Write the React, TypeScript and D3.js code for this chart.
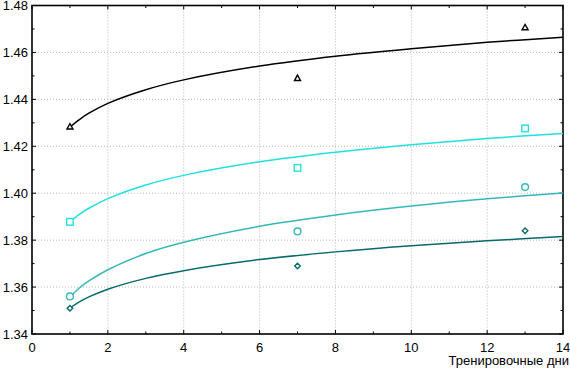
import * as d3 from "d3";

// fitted curves at these days
const curveDays = [1, 1.25, 1.5, 2, 3, 4, 6, 8, 10, 12, 14];
const curveBlack = [1.4282, 1.4314, 1.4341, 1.4383, 1.4441, 1.4483, 1.4542, 1.4584, 1.4616, 1.4643, 1.4665];
const curveCyan = [1.3878, 1.391, 1.3936, 1.3977, 1.4035, 1.4076, 1.4134, 1.4175, 1.4207, 1.4233, 1.4255];
const curveTeal = [1.3558, 1.3596, 1.3626, 1.3674, 1.3743, 1.3791, 1.3859, 1.3907, 1.3945, 1.3976, 1.4001];
const curveDark = [1.3511, 1.3537, 1.3558, 1.3591, 1.3637, 1.367, 1.3717, 1.375, 1.3776, 1.3797, 1.3815];

// measured points
const pointDays = [1, 7, 13];
const pointsBlack = [1.4283, 1.449, 1.4706];
const pointsCyan = [1.3878, 1.4108, 1.4276];
const pointsTeal = [1.356, 1.3837, 1.4026];
const pointsDark = [1.351, 1.369, 1.384];

const xTicks = [0, 2, 4, 6, 8, 10, 12, 14];
const yTicks = [1.34, 1.36, 1.38, 1.4, 1.42, 1.44, 1.46, 1.48];
const xLabel = "Тренировочные дни";

const series = [
  { curve: curveBlack, pts: pointsBlack, color: "#000000", marker: "triangle" },
  { curve: curveCyan, pts: pointsCyan, color: "#22e0e0", marker: "square" },
  { curve: curveTeal, pts: pointsTeal, color: "#35b8b8", marker: "circle" },
  { curve: curveDark, pts: pointsDark, color: "#086a6a", marker: "diamond" },
];

const W = 570;
const H = 368;
const left = 32;
const right = 563;
const top = 5.5;
const bottom = 334;
const font = "'Liberation Sans', Arial, sans-serif";

function Marker({ kind, cx, cy, color }: { kind: string; cx: number; cy: number; color: string }) {
  const sw = 1.4;
  if (kind === "square") return <rect x={cx - 3.3} y={cy - 3.3} width={6.6} height={6.6} fill="white" stroke={color} strokeWidth={sw} />;
  if (kind === "circle") return <circle cx={cx} cy={cy} r={3.4} fill="white" stroke={color} strokeWidth={sw} />;
  if (kind === "diamond")
    return <path d={`M${cx},${cy - 2.8}L${cx + 2.8},${cy}L${cx},${cy + 2.8}L${cx - 2.8},${cy}Z`} fill="white" stroke={color} strokeWidth={sw} />;
  return <path d={`M${cx},${cy - 3.2}L${cx + 3},${cy + 2.2}L${cx - 3},${cy + 2.2}Z`} fill="white" stroke={color} strokeWidth={sw} />;
}

export default function App() {
  const x = d3.scaleLinear().domain([0, 14]).range([left, right]);
  const y = d3.scaleLinear().domain([1.34, 1.48]).range([bottom, top]);
  const line = d3
    .line<number>()
    .x((_, i) => x(curveDays[i]))
    .y((v) => y(v))
    .curve(d3.curveCatmullRom);

  const xMinor = d3.range(1, 14, 2);
  const yMinor = d3.range(0, 7).map((i) => 1.35 + i * 0.02);

  return (
    <svg width={W} height={H} style={{ position: "absolute", left: 0, top: 0, background: "white" }}>
      <rect x={0} y={0} width={W} height={H} fill="white" />
      {/* grid */}
      {xTicks.slice(1, -1).map((t) => (
        <line key={`gx${t}`} x1={x(t)} x2={x(t)} y1={top} y2={bottom} stroke="#b8b8b8" strokeWidth={1} strokeDasharray="1,2" />
      ))}
      {yTicks.slice(1, -1).map((t) => (
        <line key={`gy${t}`} x1={left} x2={right} y1={y(t)} y2={y(t)} stroke="#b8b8b8" strokeWidth={1} strokeDasharray="1,2" />
      ))}
      {/* ticks on all four sides, pointing in */}
      {xTicks.map((t) => (
        <g key={`tx${t}`} stroke="black" strokeWidth={1}>
          <line x1={x(t)} x2={x(t)} y1={bottom} y2={bottom - 4} />
          <line x1={x(t)} x2={x(t)} y1={top} y2={top + 4} />
        </g>
      ))}
      {xMinor.map((t) => (
        <g key={`mx${t}`} stroke="black" strokeWidth={1}>
          <line x1={x(t)} x2={x(t)} y1={bottom} y2={bottom - 2.5} />
          <line x1={x(t)} x2={x(t)} y1={top} y2={top + 2.5} />
        </g>
      ))}
      {yTicks.map((t) => (
        <g key={`ty${t}`} stroke="black" strokeWidth={1}>
          <line x1={left} x2={left + 4} y1={y(t)} y2={y(t)} />
          <line x1={right} x2={right - 4} y1={y(t)} y2={y(t)} />
        </g>
      ))}
      {yMinor.map((t) => (
        <g key={`my${t}`} stroke="black" strokeWidth={1}>
          <line x1={left} x2={left + 2.5} y1={y(t)} y2={y(t)} />
          <line x1={right} x2={right - 2.5} y1={y(t)} y2={y(t)} />
        </g>
      ))}
      <rect x={left} y={top} width={right - left} height={bottom - top} fill="none" stroke="black" strokeWidth={1.6} />
      {/* curves and points */}
      {series.map((s, si) => (
        <g key={si}>
          <path d={line(s.curve) ?? ""} fill="none" stroke={s.color} strokeWidth={1.5} />
          {s.pts.map((v, i) => (
            <Marker key={i} kind={s.marker} cx={x(pointDays[i])} cy={y(v)} color={s.color} />
          ))}
        </g>
      ))}
      {/* labels */}
      {yTicks.map((t) => (
        <text key={`ly${t}`} x={28} y={y(t)} dy="0.35em" textAnchor="end" fontFamily={font} fontSize={13} fill="black">
          {d3.format(".2f")(t)}
        </text>
      ))}
      {xTicks.map((t) => (
        <text key={`lx${t}`} x={x(t)} y={351.5} textAnchor="middle" fontFamily={font} fontSize={13} fill="black">
          {t}
        </text>
      ))}
      <text x={569} y={365} textAnchor="end" fontFamily={font} fontSize={13} fill="black">
        {xLabel}
      </text>
    </svg>
  );
}
